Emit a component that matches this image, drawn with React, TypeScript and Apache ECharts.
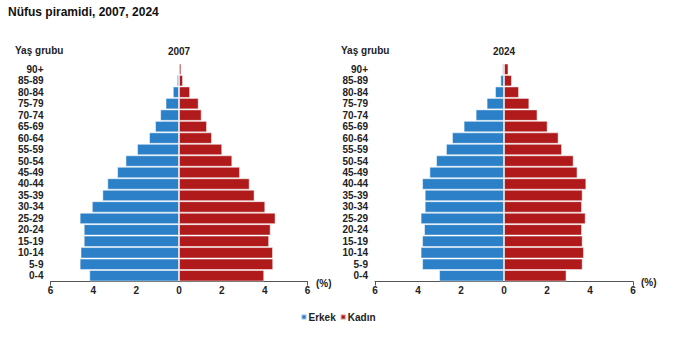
import React, { useEffect, useRef } from "react";
import * as echarts from "echarts";

const ageGroups = ["0-4", "5-9", "10-14", "15-19", "20-24", "25-29", "30-34", "35-39", "40-44", "45-49", "50-54", "55-59", "60-64", "65-69", "70-74", "75-79", "80-84", "85-89", "90+"];
const male2007 = [4.19, 4.64, 4.6, 4.45, 4.45, 4.64, 4.07, 3.58, 3.35, 2.89, 2.5, 1.96, 1.4, 1.12, 0.88, 0.63, 0.29, 0.1, 0.05];
const female2007 = [3.98, 4.4, 4.39, 4.21, 4.28, 4.51, 4.03, 3.53, 3.3, 2.85, 2.49, 2.02, 1.54, 1.31, 1.06, 0.92, 0.52, 0.19, 0.11];
const male2024 = [3.02, 3.81, 3.88, 3.81, 3.72, 3.88, 3.69, 3.69, 3.81, 3.47, 3.16, 2.7, 2.42, 1.88, 1.32, 0.81, 0.42, 0.17, 0.08];
const female2024 = [2.91, 3.66, 3.72, 3.66, 3.63, 3.8, 3.63, 3.66, 3.83, 3.42, 3.24, 2.7, 2.54, 2.03, 1.56, 1.18, 0.7, 0.37, 0.21];
const xTicks = [-6, -4, -2, 0, 2, 4, 6];
const years = ["2007", "2024"];

const BLUE = "#2b80c8";
const RED = "#b01a1a";
const FONT = "'Liberation Sans', Arial, sans-serif";

export default function App() {
  const ref = useRef<HTMLDivElement>(null);
  useEffect(() => {
    const chart = echarts.init(ref.current!, null, { renderer: "svg" });
    const grids = [
      { left: 50.5, top: 63.5, width: 257, height: 218 },
      { left: 375, top: 63.5, width: 258, height: 218 },
    ];
    const xAxis: any[] = [];
    const yAxis: any[] = [];
    grids.forEach((_, gi) => {
      xAxis.push({
        type: "value",
        gridIndex: gi,
        min: xTicks[0],
        max: xTicks[xTicks.length - 1],
        interval: 2,
        axisLine: { show: true, lineStyle: { color: "#555", width: 1 } },
        axisTick: { show: false },
        splitLine: { show: false },
        axisLabel: {
          formatter: (v: number) => String(Math.abs(v)),
          fontFamily: FONT,
          fontWeight: "bold",
          fontSize: 10,
          color: "#222",
          margin: 4,
        },
      });
      xAxis.push({
        type: "value",
        gridIndex: gi,
        position: "bottom",
        min: -6,
        max: 6,
        interval: 12,
        axisLine: { show: false },
        axisTick: { show: true, length: 4, lineStyle: { color: "#555" } },
        axisLabel: { show: false },
        splitLine: { show: false },
      });
      yAxis.push({
        type: "category",
        gridIndex: gi,
        data: ageGroups,
        axisLine: { show: false },
        axisTick: { show: false },
        axisLabel: {
          fontFamily: FONT,
          fontWeight: "bold",
          fontSize: 10,
          color: "#222",
          margin: 7,
          interval: 0,
        },
      });
    });
    const barStyle = (c: string) => ({
      color: c,
      borderColor: "rgba(255,255,255,0.5)",
      borderWidth: 1,
    });
    const mk = (name: string, data: number[], gi: number, c: string, neg: boolean) => ({
      type: "bar",
      name,
      xAxisIndex: gi * 2,
      yAxisIndex: gi,
      stack: "s" + gi,
      data: data.map((v) => (neg ? -v : v)),
      barCategoryGap: "0%",
      itemStyle: barStyle(c),
    });
    const textStyle = (extra: any) => ({
      fontFamily: FONT,
      fontWeight: "bold",
      fontSize: 10,
      fill: "#222",
      ...extra,
    });
    chart.setOption({
      animation: false,
      backgroundColor: "#fff",
      grid: grids,
      xAxis,
      yAxis,
      legend: {
        data: [
          { name: "Erkek", itemStyle: { color: BLUE } },
          { name: "Kadın", itemStyle: { color: RED } },
        ],
        left: "center",
        top: 307,
        icon: "rect",
        itemWidth: 5,
        itemHeight: 5,
        itemGap: 4,
        textStyle: { fontFamily: FONT, fontWeight: "bold", fontSize: 10, color: "#222", padding: [0, 0, 0, -3] },
      },
      series: [
        mk("Erkek", male2007, 0, BLUE, true),
        mk("Kadın", female2007, 0, RED, false),
        mk("Erkek", male2024, 1, BLUE, true),
        mk("Kadın", female2024, 1, RED, false),
      ],
      graphic: [
        { type: "text", left: 8, top: 6, style: textStyle({ text: "Nüfus piramidi, 2007, 2024", fontSize: 12, fill: "#111" }) },
        { type: "text", left: 15, top: 45, style: textStyle({ text: "Yaş grubu" }) },
        { type: "text", left: 341, top: 45, style: textStyle({ text: "Yaş grubu" }) },
        { type: "text", x: 179, y: 51, style: textStyle({ text: years[0], align: "center", verticalAlign: "middle" }) },
        { type: "text", x: 504, y: 51, style: textStyle({ text: years[1], align: "center", verticalAlign: "middle" }) },
        { type: "text", x: 316, y: 283, style: textStyle({ text: "(%)", verticalAlign: "middle" }) },
        { type: "text", x: 641, y: 282, style: textStyle({ text: "(%)", verticalAlign: "middle" }) },
      ],
    });
    return () => chart.dispose();
  }, []);
  return <div ref={ref} style={{ position: "fixed", left: 0, top: 0, width: 676, height: 341 }} />;
}
